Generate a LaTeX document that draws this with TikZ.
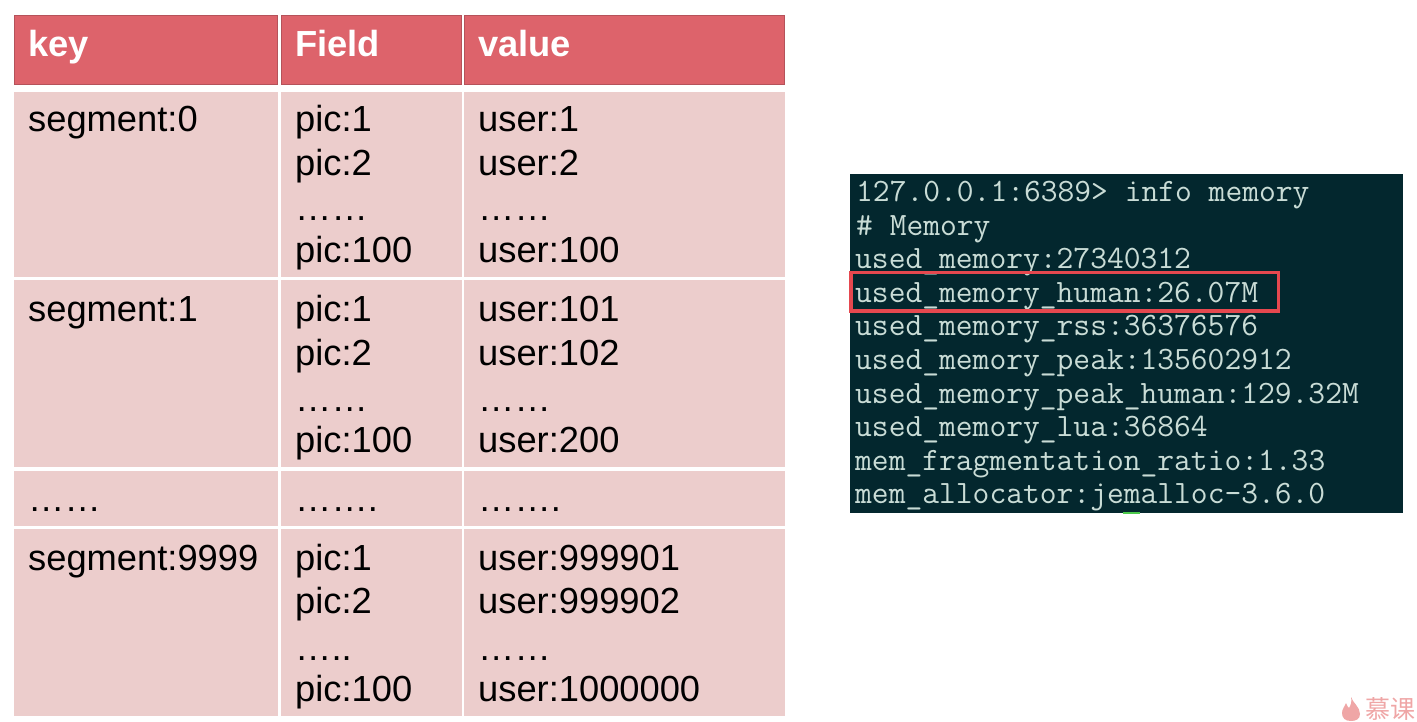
\documentclass[tikz,border=0pt]{standalone}
\usepackage{fontspec}
\setmainfont{Liberation Sans}
\newfontfamily\cjkwm{Noto Sans CJK SC}
\definecolor{headfill}{HTML}{DD636B}
\definecolor{headline}{HTML}{B5525A}
\definecolor{bodyfill}{HTML}{ECCDCC}
\definecolor{termbg}{HTML}{03272E}
\definecolor{termtext}{HTML}{C9DCD6}
\definecolor{redbox}{HTML}{E5484F}
\definecolor{wm}{HTML}{EFA6A6}
\tikzset{
  cellbase/.style={rectangle,anchor=north west,inner sep=0pt,outer sep=0pt},
  headcell/.style={cellbase,fill=headfill,draw=headline,line width=0.8pt},
  bodycell/.style={cellbase,fill=bodyfill},
  headtxt/.style={anchor=base west,inner sep=0pt,text=white,font=\fontsize{36.3}{40}\selectfont\bfseries},
  bodytxt/.style={anchor=base west,inner sep=0pt,text=black,font=\fontsize{36.3}{40}\selectfont},
  termtxt/.style={anchor=base west,inner sep=0pt,text=termtext,font=\fontsize{32.6}{34}\selectfont\ttfamily},
}
\begin{document}
\begin{tikzpicture}[x=1pt,y=-1pt]
\useasboundingbox (0,0) rectangle (1417,721);
% header
\node[headcell,minimum width=263.2pt,minimum height=69.2pt] (h1) at (14.4,15.4) {};
\node[headcell,minimum width=180.2pt,minimum height=69.2pt] (h2) at (281.4,15.4) {};
\node[headcell,minimum width=320.2pt,minimum height=69.2pt] (h3) at (464.4,15.4) {};
\node[headtxt] (th1) at (28,56) {key};
\node[headtxt] (th2) at (295,56) {Field};
\node[headtxt] (th3) at (478,56) {value};
% body cells
\node[bodycell,minimum width=264pt,minimum height=185pt] (a1) at (14,92) {};
\node[bodycell,minimum width=181pt,minimum height=185pt] (a2) at (281,92) {};
\node[bodycell,minimum width=321pt,minimum height=185pt] (a3) at (464,92) {};
\node[bodycell,minimum width=264pt,minimum height=187pt] (b1) at (14,280) {};
\node[bodycell,minimum width=181pt,minimum height=187pt] (b2) at (281,280) {};
\node[bodycell,minimum width=321pt,minimum height=187pt] (b3) at (464,280) {};
\node[bodycell,minimum width=264pt,minimum height=55pt] (c1) at (14,471) {};
\node[bodycell,minimum width=181pt,minimum height=55pt] (c2) at (281,471) {};
\node[bodycell,minimum width=321pt,minimum height=55pt] (c3) at (464,471) {};
\node[bodycell,minimum width=264pt,minimum height=187pt] (d1) at (14,529) {};
\node[bodycell,minimum width=181pt,minimum height=187pt] (d2) at (281,529) {};
\node[bodycell,minimum width=321pt,minimum height=187pt] (d3) at (464,529) {};
% row 1
\node[bodytxt] (ta1) at (28,131) {segment:0};
\node[bodytxt] (ta2a) at (295,131) {pic:1};
\node[bodytxt] (ta2b) at (295,175) {pic:2};
\node[bodytxt] (ta2c) at (295,220) {……};
\node[bodytxt] (ta2d) at (295,262) {pic:100};
\node[bodytxt] (ta3a) at (478,131) {user:1};
\node[bodytxt] (ta3b) at (478,175) {user:2};
\node[bodytxt] (ta3c) at (478,220) {……};
\node[bodytxt] (ta3d) at (478,262) {user:100};
% row 2
\node[bodytxt] (tb1) at (28,321) {segment:1};
\node[bodytxt] (tb2a) at (295,321) {pic:1};
\node[bodytxt] (tb2b) at (295,365) {pic:2};
\node[bodytxt] (tb2c) at (295,411) {……};
\node[bodytxt] (tb2d) at (295,452) {pic:100};
\node[bodytxt] (tb3a) at (478,321) {user:101};
\node[bodytxt] (tb3b) at (478,365) {user:102};
\node[bodytxt] (tb3c) at (478,411) {……};
\node[bodytxt] (tb3d) at (478,452) {user:200};
% row 3
\node[bodytxt] (tc1) at (28,511) {……};
\node[bodytxt] (tc2) at (295,511) {…….};
\node[bodytxt] (tc3) at (478,511) {…….};
% row 4
\node[bodytxt] (td1) at (28,570) {segment:9999};
\node[bodytxt] (td2a) at (295,570) {pic:1};
\node[bodytxt] (td2b) at (295,613) {pic:2};
\node[bodytxt] (td2c) at (295,660) {…..};
\node[bodytxt] (td2d) at (295,701) {pic:100};
\node[bodytxt] (td3a) at (478,570) {user:999901};
\node[bodytxt] (td3b) at (478,613) {user:999902};
\node[bodytxt] (td3c) at (478,660) {……};
\node[bodytxt] (td3d) at (478,701) {user:1000000};
% terminal
\node[cellbase,fill=termbg,minimum width=553pt,minimum height=339pt] (term) at (850,174) {};
\fill[green!70!black!70!white] (1123,512) rectangle (1140,513.5);
\node[termtxt] (l1) at (856,201) {127.0.0.1:6389> info memory};
\node[termtxt] (l2) at (856,235) {\# Memory};
\node[termtxt] (l3) at (855,268) {used\_memory:27340312};
\node[termtxt] (l4) at (855,302) {used\_memory\_human:26.07M};
\node[termtxt] (l5) at (855,335) {used\_memory\_rss:36376576};
\node[termtxt] (l6) at (855,369) {used\_memory\_peak:135602912};
\node[termtxt] (l7) at (855,403) {used\_memory\_peak\_human:129.32M};
\node[termtxt] (l8) at (855,436) {used\_memory\_lua:36864};
\node[termtxt] (l9) at (855,470) {mem\_fragmentation\_ratio:1.33};
\node[termtxt] (l10) at (855,503) {mem\_allocator:jemalloc-3.6.0};
\draw[redbox,line width=3.5pt] (851,272.7) rectangle (1278.3,311);
% watermark
\fill[wm] (1351,697) .. controls (1353,703) and (1360,707) .. (1360,714) .. controls (1360,719) and (1356,721) .. (1351,721) .. controls (1345,721) and (1342,718) .. (1342,713) .. controls (1342,709) and (1345,706) .. (1346,703) .. controls (1347,706) and (1348,707) .. (1349,708) .. controls (1351,705) and (1352,701) .. (1351,697) -- cycle;
\node[anchor=base west,inner sep=0pt,text=wm,font=\cjkwm\fontsize{25}{28}\selectfont] (wmark) at (1365,718) {慕课};
\end{tikzpicture}
\end{document}
